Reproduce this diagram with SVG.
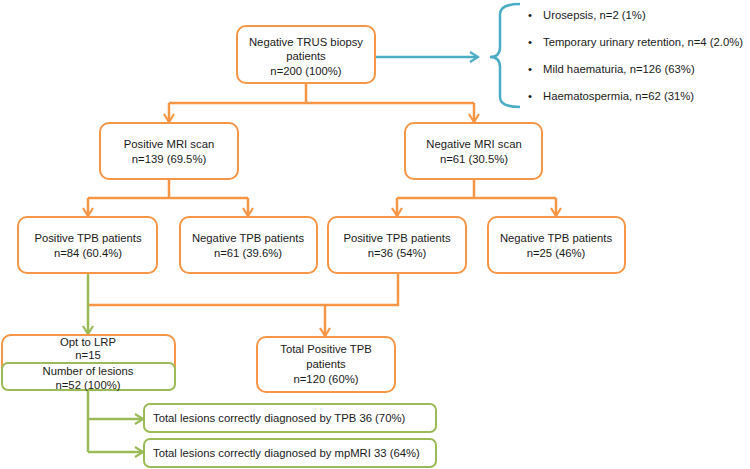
<svg xmlns="http://www.w3.org/2000/svg" width="750" height="469" viewBox="0 0 750 469">
<defs>
<style>
.t{font-family:"Liberation Sans",Arial,sans-serif;font-size:11.3px;fill:#1a1a1a;text-anchor:middle}
.l{text-anchor:start}
.bo{fill:#fff;stroke:#F79646;stroke-width:2}
.bg{fill:#fff;stroke:#9BBB59;stroke-width:2}
.co{fill:none;stroke:#F79646;stroke-width:2.5}
.cg{fill:none;stroke:#9BBB59;stroke-width:2.5}
.cb{fill:none;stroke:#4BACC6;stroke-width:2.5}
</style>
<marker id="ao" viewBox="0 0 12 12" refX="10" refY="6" markerWidth="12" markerHeight="12" markerUnits="userSpaceOnUse" orient="auto"><path d="M2,1 L10,6 L2,11" fill="none" stroke="#F79646" stroke-width="2.2"/></marker>
<marker id="ag" viewBox="0 0 12 12" refX="10" refY="6" markerWidth="12" markerHeight="12" markerUnits="userSpaceOnUse" orient="auto"><path d="M2,1 L10,6 L2,11" fill="none" stroke="#9BBB59" stroke-width="2.2"/></marker>
<marker id="ab" viewBox="0 0 12 12" refX="10" refY="6" markerWidth="12" markerHeight="12" markerUnits="userSpaceOnUse" orient="auto"><path d="M2,1 L10,6 L2,11" fill="none" stroke="#4BACC6" stroke-width="2.2"/></marker>
</defs>
<rect width="750" height="469" fill="#fff"/>
<g id="connectors">
<path class="co" d="M306,83 V103"/>
<path class="co" d="M169,103 H474"/>
<path class="co" d="M169,103 V122" marker-end="url(#ao)"/>
<path class="co" d="M474,103 V122" marker-end="url(#ao)"/>
<path class="co" d="M169,179 V198"/>
<path class="co" d="M88,198 H248"/>
<path class="co" d="M88,198 V216" marker-end="url(#ao)"/>
<path class="co" d="M248,198 V216" marker-end="url(#ao)"/>
<path class="co" d="M474,179 V198"/>
<path class="co" d="M397,198 H556"/>
<path class="co" d="M397,198 V216" marker-end="url(#ao)"/>
<path class="co" d="M556,198 V216" marker-end="url(#ao)"/>
<path class="co" d="M398,273 V305 H88"/>
<path class="co" d="M325,305 V336" marker-end="url(#ao)"/>
<path class="cg" d="M88,273 V334" marker-end="url(#ag)"/>
<path class="cg" d="M88,390 V452"/>
<path class="cg" d="M88,419 H143" marker-end="url(#ag)"/>
<path class="cg" d="M88,452 H143" marker-end="url(#ag)"/>
<path class="cb" d="M375,57 H478" marker-end="url(#ab)"/>
<path class="cb" d="M520,4 Q500,4 500,14 V47 Q500,57 490,57 Q500,57 500,67 V97 Q500,107 520,107"/>
</g>
<g id="n_top"><rect class="bo" x="237" y="26" width="138" height="57" rx="9"/>
<text class="t" x="306" y="46">Negative TRUS biopsy</text><text class="t" x="306" y="60">patients</text><text class="t" x="306" y="75">n=200  (100%)</text></g>
<g id="n_complications">
<text class="t l" x="528" y="19">•</text><text class="t l" x="543" y="19">Urosepsis, n=2 (1%)</text>
<text class="t l" x="528" y="46">•</text><text class="t l" x="543" y="46">Temporary urinary retention, n=4 (2.0%)</text>
<text class="t l" x="528" y="73">•</text><text class="t l" x="543" y="73">Mild haematuria, n=126 (63%)</text>
<text class="t l" x="528" y="100">•</text><text class="t l" x="543" y="100">Haematospermia, n=62 (31%)</text>
</g>
<g id="n_posmri"><rect class="bo" x="100" y="123" width="138" height="56" rx="9"/>
<text class="t" x="169" y="148">Positive MRI scan</text><text class="t" x="169" y="163">n=139  (69.5%)</text></g>
<g id="n_negmri"><rect class="bo" x="405" y="123" width="137" height="56" rx="9"/>
<text class="t" x="474" y="148">Negative MRI scan</text><text class="t" x="474" y="163">n=61  (30.5%)</text></g>
<g id="n_postpb1"><rect class="bo" x="18" y="217" width="139" height="56" rx="9"/>
<text class="t" x="88" y="242">Positive TPB patients</text><text class="t" x="88" y="257">n=84 (60.4%)</text></g>
<g id="n_negtpb1"><rect class="bo" x="180" y="217" width="137" height="56" rx="9"/>
<text class="t" x="248" y="242">Negative TPB patients</text><text class="t" x="248" y="257">n=61 (39.6%)</text></g>
<g id="n_postpb2"><rect class="bo" x="328" y="217" width="138" height="56" rx="9"/>
<text class="t" x="397" y="242">Positive TPB patients</text><text class="t" x="397" y="257">n=36 (54%)</text></g>
<g id="n_negtpb2"><rect class="bo" x="488" y="217" width="137" height="56" rx="9"/>
<text class="t" x="556" y="242">Negative TPB patients</text><text class="t" x="556" y="257">n=25 (46%)</text></g>
<g id="n_lrp"><rect class="bo" x="2" y="335" width="173" height="55" rx="9"/>
<text class="t" x="88" y="346">Opt to LRP</text><text class="t" x="88" y="359">n=15</text></g>
<g id="n_lesions"><rect class="bg" x="2" y="363" width="173" height="27" rx="6"/>
<text class="t" x="88" y="375">Number of lesions</text><text class="t" x="88" y="389">n=52 (100%)</text></g>
<g id="n_total"><rect class="bo" x="257" y="337" width="138" height="55" rx="9"/>
<text class="t" x="326" y="353">Total Positive TPB</text><text class="t" x="326" y="368">patients</text><text class="t" x="326" y="383">n=120  (60%)</text></g>
<g id="n_tpb36"><rect class="bg" x="144" y="404" width="292" height="28" rx="6"/>
<text class="t l" x="153" y="422">Total lesions correctly diagnosed by TPB 36  (70%)</text></g>
<g id="n_mpmri"><rect class="bg" x="144" y="439" width="292" height="28" rx="6"/>
<text class="t l" x="153" y="457">Total lesions correctly diagnosed by mpMRI 33  (64%)</text></g>
</svg>
